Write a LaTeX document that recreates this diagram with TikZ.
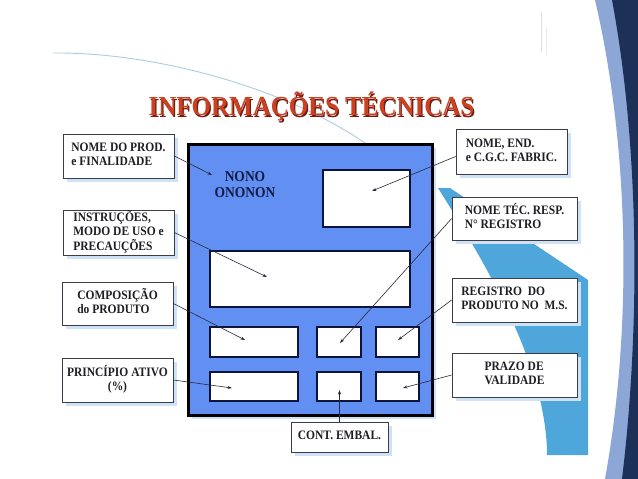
\documentclass[tikz,border=0pt]{standalone}
\usepackage{fontspec}
\setmainfont{Liberation Serif}
\usetikzlibrary{arrows.meta,calc,shadows}
\definecolor{panelblue}{RGB}{98,143,242}
\definecolor{winline}{RGB}{10,20,60}
\definecolor{boxline}{RGB}{60,60,70}
\definecolor{textc}{RGB}{30,30,35}
\definecolor{nonoc}{RGB}{20,28,70}
\definecolor{shadowblue}{RGB}{205,226,246}
\definecolor{arrowc}{RGB}{40,40,60}
\definecolor{skyblue}{RGB}{78,166,218}
\definecolor{edgeblue}{RGB}{140,166,214}
\definecolor{navyc}{RGB}{28,48,88}
\definecolor{arcblue}{RGB}{170,205,225}
\definecolor{titlec}{RGB}{205,65,35}
\definecolor{titlesh}{RGB}{110,30,20}
\newcommand{\lbltext}[2][l]{\scalebox{1}[1.12]{\begin{tabular}{@{}#1@{}}#2\end{tabular}}}
\begin{document}
\begin{tikzpicture}[x=1pt,y=-1pt,
  lbl/.style={draw=boxline, line width=0.7pt, fill=white, text=textc,
    font=\bfseries\fontsize{11.5}{12.5}\selectfont, inner sep=0pt,
    drop shadow={shadow xshift=4pt,shadow yshift=-4pt,fill=shadowblue,opacity=1}},
  win/.style={draw=winline, line width=2.4pt, fill=white, inner sep=0pt},
  arr/.style={draw=arrowc, line width=0.6pt, -{Stealth[length=4.5pt,width=3pt]}}
]
\useasboundingbox (0,0) rectangle (638,479);
\fill[white] (0,0) rectangle (638,479);

% decorative background
\draw[arcblue, line width=0.9pt] (53,53) .. controls (150,52) and (280,85) .. (365,143);
\draw[black!12, line width=0.6pt] (541,12) -- (541,52);
\draw[black!8, line width=0.6pt] (546,28) -- (546,55);
\fill[edgeblue] (595,0) .. controls (630,150) and (632,330) .. (605,479) -- (638,479) -- (638,0) -- cycle;
\fill[navyc] (612,0) .. controls (640,150) and (640,330) .. (622,479) -- (638,479) -- (638,0) -- cycle;
\fill[skyblue] (438,188) -- (450,188) -- (588,280) -- (588,455) -- (547,455)
  .. controls (547,360) and (475,247) .. (438,188) -- cycle;

% title
\node[text=titlesh, font=\bfseries\fontsize{25}{30}\selectfont] (titlesh) at (312.8,108.3) {\scalebox{1}[1.1]{INFORMAÇÕES TÉCNICAS}};
\node[text=titlec, font=\bfseries\fontsize{25}{30}\selectfont] (title) at (311.5,107) {\scalebox{1}[1.1]{INFORMAÇÕES TÉCNICAS}};

% panel
\fill[shadowblue] (192,148) rectangle (436,419);
\node[draw=black, line width=3pt, fill=panelblue, minimum width=244, minimum height=271, inner sep=0pt] (panel) at (310,279.5) {};
\node[win, minimum width=87, minimum height=57] (w1) at (366.5,198.5) {};
\node[win, minimum width=200, minimum height=56] (w2) at (310,279) {};
\node[win, minimum width=88, minimum height=30] (r1a) at (254,342) {};
\node[win, minimum width=44, minimum height=30] (r1b) at (339,342) {};
\node[win, minimum width=43, minimum height=30] (r1c) at (397.5,342) {};
\node[win, minimum width=88, minimum height=29] (r2a) at (254,386.5) {};
\node[win, minimum width=44, minimum height=29] (r2b) at (339,386.5) {};
\node[win, minimum width=43, minimum height=29] (r2c) at (397.5,386.5) {};
\node[text=nonoc, font=\bfseries\fontsize{13.5}{14.5}\selectfont] (nono) at (245,186) {\lbltext[c]{NONO\\ONONON}};

% labels
\node[lbl, minimum width=111, minimum height=44] (prod) at (118.5,156) {\lbltext{NOME DO PROD.\\e FINALIDADE}};
\node[lbl, minimum width=111, minimum height=45] (instr) at (118.5,232.5) {\lbltext{INSTRUÇÕES,\\MODO DE USO e\\PRECAUÇÕES}};
\node[lbl, minimum width=111, minimum height=43] (comp) at (117.5,303.5) {\lbltext{COMPOSIÇÃO\\do PRODUTO}};
\node[lbl, minimum width=111, minimum height=44] (princ) at (117.5,380) {\lbltext[c]{PRINCÍPIO ATIVO\\(\%)}};
\node[lbl, minimum width=111, minimum height=45] (end) at (511.5,151.5) {\lbltext{NOME, END.\\e C.G.C. FABRIC.}};
\node[lbl, minimum width=125, minimum height=43] (tec) at (514.5,218.5) {\lbltext{NOME TÉC. RESP.\\N° REGISTRO}};
\node[lbl, minimum width=125, minimum height=44] (reg) at (514.5,300) {\lbltext{REGISTRO~~DO\\PRODUTO NO~~M.S.}};
\node[lbl, minimum width=125, minimum height=44] (prazo) at (514.5,375) {\lbltext{PRAZO DE\\VALIDADE}};
\node[lbl, minimum width=97, minimum height=30] (cont) at (339.5,437) {\lbltext[c]{CONT. EMBAL.}};

% arrow targets
\coordinate (a1) at (212,175);
\coordinate (a2) at (267,277);
\coordinate (a3) at (245,340);
\coordinate (a4) at (232,388);
\coordinate (a5) at (339.5,390);
\coordinate (a6) at (403,388);
\coordinate (a7) at (398,340);
\coordinate (a8) at (340,343);
\coordinate (a9) at (372,191);

\draw[arr] (prod.east) -- (a1);
\draw[arr] (instr.east) -- (a2);
\draw[arr] (comp.east) -- (a3);
\draw[arr] (princ.east) -- (a4);
\draw[arr] (cont.north) -- (a5);
\draw[arr] (prazo.west) -- (a6);
\draw[arr] (reg.west) -- (a7);
\draw[arr] (tec.west) -- (a8);
\draw[arr] ([yshift=-5pt]end.west) -- (a9);
\end{tikzpicture}
\end{document}
